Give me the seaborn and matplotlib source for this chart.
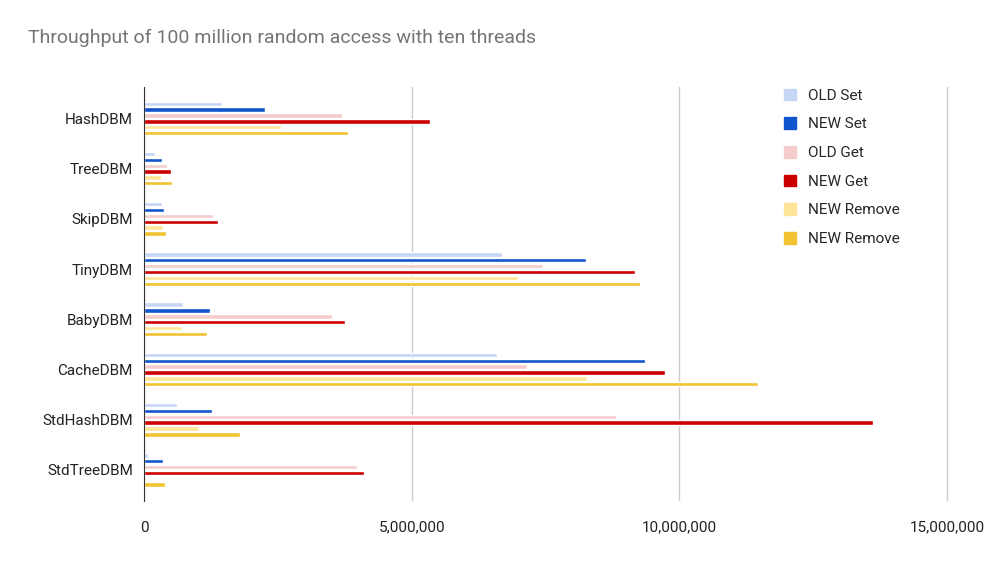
import matplotlib
matplotlib.use("Agg")
import matplotlib.pyplot as plt
import seaborn as sns
import pandas as pd
from matplotlib.ticker import FuncFormatter
from matplotlib.patches import Patch

categories = ["HashDBM", "TreeDBM", "SkipDBM", "TinyDBM", "BabyDBM", "CacheDBM", "StdHashDBM", "StdTreeDBM"]
series = ["OLD Set", "NEW Set", "OLD Get", "NEW Get", "NEW Remove ", "NEW Remove"]
old_set = [1.46e6, 0.20e6, 0.34e6, 6.68e6, 0.73e6, 6.60e6, 0.62e6, 0.07e6]
new_set = [2.26e6, 0.34e6, 0.37e6, 8.26e6, 1.23e6, 9.35e6, 1.27e6, 0.35e6]
old_get = [3.69e6, 0.43e6, 1.29e6, 7.46e6, 3.51e6, 7.15e6, 8.82e6, 3.97e6]
new_get = [5.34e6, 0.50e6, 1.38e6, 9.18e6, 3.75e6, 9.74e6, 13.62e6, 4.10e6]
old_remove = [2.56e6, 0.32e6, 0.35e6, 6.98e6, 0.71e6, 8.28e6, 1.03e6, 0.04e6]
new_remove = [3.81e6, 0.52e6, 0.41e6, 9.27e6, 1.18e6, 11.47e6, 1.79e6, 0.39e6]
colors = ["#c6d7f5", "#1155cc", "#f4cccc", "#cc0000", "#ffe599", "#f1c232"]

rows = []
for s, vals in zip(series, [old_set, new_set, old_get, new_get, old_remove, new_remove]):
    for c, v in zip(categories, vals):
        rows.append({"db": c, "series": s, "value": v})
df = pd.DataFrame(rows)

sns.set_style("white")
plt.rcParams["font.family"] = ["Roboto", "DejaVu Sans"]
fig = plt.figure(figsize=(10.07, 5.78), dpi=100)
ax = fig.add_axes([0.143, 0.133, 0.84, 0.716])
sns.barplot(data=df, y="db", x="value", hue="series", palette=colors, orient="h",
            ax=ax, width=0.7, gap=0.25, saturation=1, legend=False)
ax.set_xlim(0, 15.8e6)
ax.set_ylim(7.62, -0.62)
ax.set_xticks([0, 5e6, 10e6, 15e6])
ax.xaxis.set_major_formatter(FuncFormatter(lambda v, p: f"{int(v):,}"))
ax.grid(axis="x", color="#cccccc", linewidth=1)
ax.set_axisbelow(True)
for s in ["top", "right", "bottom"]:
    ax.spines[s].set_visible(False)
ax.spines["left"].set_color("#333333")
ax.set_xlabel("")
ax.set_ylabel("")
ax.tick_params(axis="both", length=0, labelsize=11, colors="#222222", pad=8)
ax.tick_params(axis="x", pad=14)
handles = [Patch(color=c, label=s.strip()) for c, s in zip(colors, series)]
ax.legend(handles=handles, loc="upper left", bbox_to_anchor=(0.74, 1.03), frameon=False,
          fontsize=11, handlelength=0.8, handleheight=0.8, labelspacing=0.95, facecolor="white")
fig.text(0.028, 0.925, "Throughput of 100 million random access with ten threads",
         fontsize=14, color="#757575")
fig.savefig("out.png", dpi=100, facecolor="white")
